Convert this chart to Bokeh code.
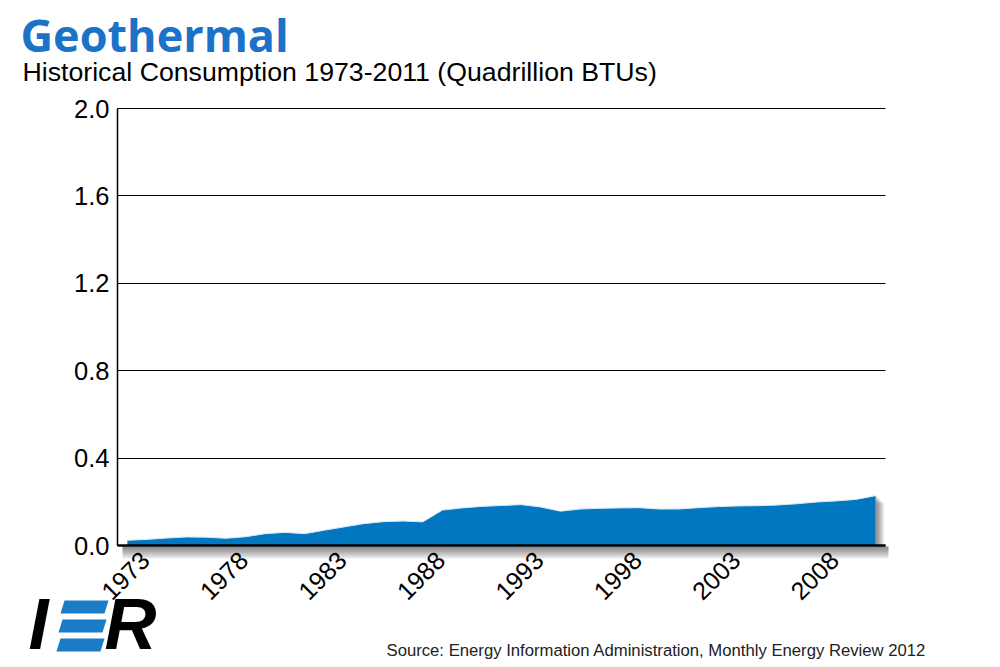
import math
from bokeh.plotting import figure
from bokeh.models import (FixedTicker, Label, BoxAnnotation, PolyAnnotation,
                          NumeralTickFormatter, Range1d, LinearAxis, Grid)
from bokeh.core.properties import value
from bokeh.embed import file_html
from bokeh.resources import INLINE

# ---------------- data ----------------
years = [1973, 1974, 1975, 1976, 1977, 1978, 1979, 1980, 1981, 1982,
         1983, 1984, 1985, 1986, 1987, 1988, 1989, 1990, 1991, 1992,
         1993, 1994, 1995, 1996, 1997, 1998, 1999, 2000, 2001, 2002,
         2003, 2004, 2005, 2006, 2007, 2008, 2009, 2010, 2011]
consumption = [0.024, 0.028, 0.034, 0.039, 0.038, 0.033, 0.040, 0.054, 0.060, 0.054,
               0.070, 0.085, 0.100, 0.109, 0.112, 0.108, 0.162, 0.172, 0.179, 0.183,
               0.187, 0.176, 0.157, 0.167, 0.170, 0.172, 0.173, 0.167, 0.167, 0.173,
               0.178, 0.181, 0.182, 0.185, 0.191, 0.199, 0.204, 0.211, 0.228]
x_ticks = [1973, 1978, 1983, 1988, 1993, 1998, 2003, 2008]
x_tick_labels = ["1973", "1978", "1983", "1988", "1993", "1998", "2003", "2008"]
y_ticks = [0.0, 0.4, 0.8, 1.2, 1.6, 2.0]

TITLE = "Geothermal"
SUBTITLE = "Historical Consumption 1973-2011 (Quadrillion BTUs)"
SOURCE = "Source: Energy Information Administration, Monthly Energy Review 2012"

# ---------------- layout ----------------
W, H = 1000, 667
FL, FR, FT, FB = 117, 885, 108, 545   # plotting box edges in page pixels
XMIN, XMAX = 1972.5, 2011.5
YMIN, YMAX = 0.0, 2.0

AREA = "#0077c0"
TITLE_BLUE = "#1b73c8"
FONT = "Liberation Sans"

ppx = (FR - FL) / (XMAX - XMIN)
ppy = (FB - FT) / (YMAX - YMIN)
x_start = XMIN - FL / ppx
x_end = XMAX + (W - FR) / ppx
y_start = YMIN - (H - FB) / ppy
y_end = YMAX + FT / ppy

p = figure(width=W, height=H, output_backend="svg", toolbar_location=None,
           x_range=Range1d(x_start, x_end), y_range=Range1d(y_start, y_end),
           x_axis_type=None, y_axis_type=None, min_border=0)
p.title.visible = False
p.outline_line_color = None
p.background_fill_color = "white"
p.border_fill_color = "white"

# grid lines (limited to the plotting box)
if "cross_bounds" in Grid.properties():
    g = Grid(dimension=1, ticker=FixedTicker(ticks=y_ticks), cross_bounds=(XMIN, XMAX),
             grid_line_color="black", grid_line_width=1, level="underlay")
    p.add_layout(g)
else:
    p.segment(x0=[XMIN] * len(y_ticks), x1=[XMAX] * len(y_ticks), y0=y_ticks, y1=y_ticks,
              line_color="black", line_width=1, level="underlay")

# shadow at right edge of area
for k in range(6):
    p.add_layout(BoxAnnotation(left=years[-1], right=years[-1] + 0.07 * (k + 1),
                               bottom=0, top=consumption[-1] * (1 - 0.03 * k),
                               fill_color="black", fill_alpha=0.09,
                               line_color=None, level="underlay"))

# area
p.varea(x=years, y1=0, y2=consumption, fill_color=AREA)
p.line(x=years, y=consumption, line_color="#d9e9f5", line_width=1)


def sx(cx):
    return cx


def sy(cy):
    return H - cy


# shadow under the x axis
for k in range(6):
    p.add_layout(BoxAnnotation(left=sx(122), right=sx(888), top=sy(546), bottom=sy(548 + 2 * k),
                               left_units="screen", right_units="screen",
                               top_units="screen", bottom_units="screen",
                               fill_color="black", fill_alpha=0.09, line_color=None))

# axes
yaxis = LinearAxis(fixed_location=XMIN, bounds=(YMIN, YMAX),
                   ticker=FixedTicker(ticks=y_ticks),
                   formatter=NumeralTickFormatter(format="0.0"))
yaxis.axis_line_color = "black"
yaxis.axis_line_width = 1.5
yaxis.major_tick_line_color = None
yaxis.minor_tick_line_color = None
yaxis.major_tick_out = 0
yaxis.major_tick_in = 0
yaxis.major_label_standoff = 8
yaxis.major_label_text_font = FONT
yaxis.major_label_text_font_size = "25.5px"
yaxis.major_label_text_color = "black"
p.add_layout(yaxis, "left")

xaxis = LinearAxis(fixed_location=YMIN, bounds=(XMIN, XMAX),
                   ticker=FixedTicker(ticks=x_ticks))
xaxis.axis_line_color = "black"
xaxis.axis_line_width = 2.5
xaxis.major_tick_line_color = None
xaxis.minor_tick_line_color = None
xaxis.major_tick_out = 0
xaxis.major_tick_in = 0
xaxis.major_label_text_font_size = "0px"
xaxis.major_label_text_alpha = 0
p.add_layout(xaxis, "below")

# rotated year labels centred under their ticks
p.text(x=x_ticks, y=[YMIN] * len(x_ticks), text=x_tick_labels, angle=math.pi / 4,
       text_align="center", text_baseline="middle", x_offset=-2, y_offset=30,
       text_font=value(FONT), text_font_size="25px", text_color="black")


def label(text, cx, baseline, size, **kw):
    # anchor compensation: the label anchor sits ~0.39 em above the glyph baseline
    p.add_layout(Label(x=sx(cx), y=sy(baseline - 0.39 * size), x_units="screen", y_units="screen",
                       text=text, text_font_size=f"{size}px", text_baseline="alphabetic", **kw))


# titles
label(TITLE, 20, 52, 45, text_font="Open Sans", text_font_style="bold", text_color=TITLE_BLUE)
label(SUBTITLE, 22, 82, 26.7, text_font=FONT, text_color="black")
label(SOURCE, 386, 657, 16.7, text_font=FONT, text_color="#222222")

# IER logo
label("I", 28, 652, 72, text_font=FONT, text_font_style="bold italic", text_color="black")
label("R", 104, 652, 72, text_font=FONT, text_font_style="bold italic", text_color="black")
for (x0, x1, t) in [(60, 104, 600), (58, 102, 619), (56, 100, 638)]:
    b = t + 13
    xs = [sx(x0 + 4), sx(x1 + 4), sx(x1), sx(x0)]
    ys = [sy(t), sy(t), sy(b), sy(b)]
    p.add_layout(PolyAnnotation(xs=xs, ys=ys, xs_units="screen", ys_units="screen",
                                fill_color="#1a7cc4", fill_alpha=1, line_color=None))

open("out.html", "w").write(file_html(p, INLINE))
